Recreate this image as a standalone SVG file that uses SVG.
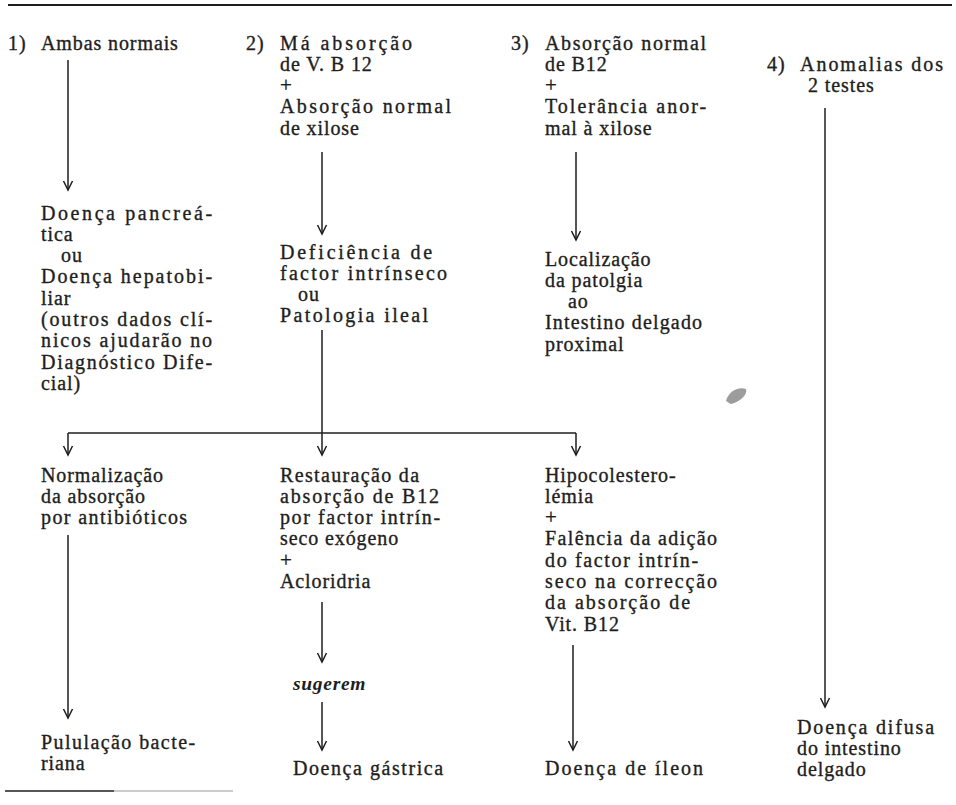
<svg xmlns="http://www.w3.org/2000/svg" width="956" height="805" viewBox="0 0 956 805">
<style>
.t{font-family:"Liberation Serif","Times New Roman",serif;font-size:20px;letter-spacing:0.9px;fill:#1e1e1e;stroke:#1e1e1e;stroke-width:0.35px}
.p{font-size:21px;letter-spacing:0}
.it{font-style:italic;font-weight:bold;font-size:19.5px;letter-spacing:0.7px;stroke-width:0}
.c{stroke:#1e1e1e;stroke-width:1.5;fill:none}
.rule{stroke:#1e1e1e;fill:none}
</style>
<defs>
<marker id="ah" viewBox="-10 -6 12 12" refX="0" refY="0" markerWidth="12" markerHeight="12" markerUnits="userSpaceOnUse" orient="auto">
<path d="M-9,-4.5 L0,0 L-9,4.5" fill="none" stroke="#1e1e1e" stroke-width="1.5"/>
</marker>
</defs>
<rect width="956" height="805" fill="#ffffff"/>
<line class="rule" x1="8" y1="5" x2="952" y2="5" stroke-width="2"/>
<line class="rule" x1="5" y1="791" x2="114" y2="791" stroke-width="1.5"/>
<line x1="114" y1="791" x2="233" y2="791" stroke="#9a9a9a" stroke-width="1.2"/>
<path d="M726,401 C728,392 738,386 746,389 C748,394 740,402 731,404 Z" fill="#9c9c9c"/>

<g id="connectors">
<path class="c" d="M68,60 V190" marker-end="url(#ah)"/>
<path class="c" d="M322,152 V234" marker-end="url(#ah)"/>
<path class="c" d="M576,152 V240" marker-end="url(#ah)"/>
<path class="c" d="M825,108 V707" marker-end="url(#ah)"/>
<path class="c" d="M322,330 V433"/>
<path class="c" d="M68,433 H576"/>
<path class="c" d="M68,433 V455" marker-end="url(#ah)"/>
<path class="c" d="M322,433 V455" marker-end="url(#ah)"/>
<path class="c" d="M576,433 V455" marker-end="url(#ah)"/>
<path class="c" d="M68,535 V718" marker-end="url(#ah)"/>
<path class="c" d="M322,602 V662" marker-end="url(#ah)"/>
<path class="c" d="M322,702 V750" marker-end="url(#ah)"/>
<path class="c" d="M573,645 V750" marker-end="url(#ah)"/>
</g>

<g id="n1">
<text class="t" y="49.5"><tspan x="8">1)</tspan><tspan x="41">Ambas normais</tspan></text>
</g>
<g id="n2">
<text class="t" y="49.5"><tspan x="246">2)</tspan><tspan x="280" textLength="133" lengthAdjust="spacing">Má absorção</tspan></text>
<text class="t" x="280" y="70.8">de V. B 12</text>
<text class="t p" x="280" y="92.1">+</text>
<text class="t" x="280" y="113.4" textLength="172" lengthAdjust="spacing">Absorção normal</text>
<text class="t" x="280" y="134.7">de xilose</text>
</g>
<g id="n3">
<text class="t" y="49.5"><tspan x="511">3)</tspan><tspan x="545" textLength="162" lengthAdjust="spacing">Absorção normal</tspan></text>
<text class="t" x="545" y="70.8">de B12</text>
<text class="t p" x="545" y="92.1">+</text>
<text class="t" x="545" y="113.4" textLength="162" lengthAdjust="spacing">Tolerância anor-</text>
<text class="t" x="545" y="134.7">mal à xilose</text>
</g>
<g id="n4">
<text class="t" y="70.8"><tspan x="767">4)</tspan><tspan x="800" textLength="144" lengthAdjust="spacing">Anomalias dos</tspan></text>
<text class="t" x="808" y="92.1">2 testes</text>
</g>

<g id="n5">
<text class="t" x="41" y="219.5" textLength="172" lengthAdjust="spacing">Doença pancreá-</text>
<text class="t" x="41" y="240.8">tica</text>
<text class="t" x="61" y="262.1">ou</text>
<text class="t" x="41" y="283.4" textLength="172" lengthAdjust="spacing">Doença hepatobi-</text>
<text class="t" x="41" y="304.7">liar</text>
<text class="t" x="41" y="326" textLength="172" lengthAdjust="spacing">(outros dados clí-</text>
<text class="t" x="41" y="347.3" textLength="172" lengthAdjust="spacing">nicos ajudarão no</text>
<text class="t" x="41" y="368.6" textLength="172" lengthAdjust="spacing">Diagnóstico Dife-</text>
<text class="t" x="41" y="389.9">cial)</text>
</g>
<g id="n6">
<text class="t" x="280" y="258.5" textLength="153" lengthAdjust="spacing">Deficiência de</text>
<text class="t" x="280" y="279.8" textLength="168" lengthAdjust="spacing">factor intrínseco</text>
<text class="t" x="298" y="301.1">ou</text>
<text class="t" x="280" y="322.4" textLength="149" lengthAdjust="spacing">Patologia ileal</text>
</g>
<g id="n7">
<text class="t" x="545" y="265.5">Localização</text>
<text class="t" x="545" y="286.8">da patolgia</text>
<text class="t" x="568" y="308.1">ao</text>
<text class="t" x="545" y="329.4" textLength="158" lengthAdjust="spacing">Intestino delgado</text>
<text class="t" x="545" y="350.7">proximal</text>
</g>

<g id="n8">
<text class="t" x="41" y="481.5">Normalização</text>
<text class="t" x="41" y="502.8">da absorção</text>
<text class="t" x="41" y="524.1" textLength="147" lengthAdjust="spacing">por antibióticos</text>
</g>
<g id="n9">
<text class="t" x="280" y="481.5" textLength="140" lengthAdjust="spacing">Restauração da</text>
<text class="t" x="280" y="502.8" textLength="160" lengthAdjust="spacing">absorção de B12</text>
<text class="t" x="280" y="524.1" textLength="161" lengthAdjust="spacing">por factor intrín-</text>
<text class="t" x="280" y="545.4">seco exógeno</text>
<text class="t p" x="280" y="566.7">+</text>
<text class="t" x="280" y="588">Acloridria</text>
</g>
<g id="n10">
<text class="t" x="545" y="481.5">Hipocolestero-</text>
<text class="t" x="545" y="502.8">lémia</text>
<text class="t p" x="545" y="524.1">+</text>
<text class="t" x="545" y="545.4" textLength="173" lengthAdjust="spacing">Falência da adição</text>
<text class="t" x="545" y="566.7" textLength="154" lengthAdjust="spacing">do factor intrín-</text>
<text class="t" x="545" y="588" textLength="173" lengthAdjust="spacing">seco na correcção</text>
<text class="t" x="545" y="609.3" textLength="146" lengthAdjust="spacing">da absorção de</text>
<text class="t" x="545" y="630.6">Vit. B12</text>
</g>
<g id="n11">
<text class="t it" x="293" y="690">sugerem</text>
</g>

<g id="n12">
<text class="t" x="41" y="748.5" textLength="155" lengthAdjust="spacing">Pululação bacte-</text>
<text class="t" x="41" y="770">riana</text>
</g>
<g id="n13">
<text class="t" x="293" y="774.5" textLength="151" lengthAdjust="spacing">Doença gástrica</text>
</g>
<g id="n14">
<text class="t" x="545" y="774.5" textLength="159" lengthAdjust="spacing">Doença de íleon</text>
</g>
<g id="n15">
<text class="t" x="797" y="733.5" textLength="138" lengthAdjust="spacing">Doença difusa</text>
<text class="t" x="797" y="754.5">do intestino</text>
<text class="t" x="797" y="775.5">delgado</text>
</g>
</svg>
